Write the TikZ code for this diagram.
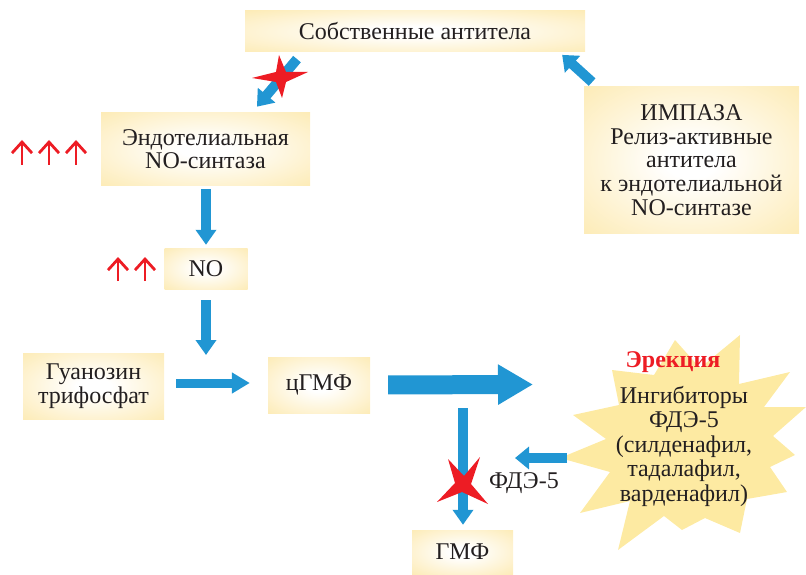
\documentclass[tikz,border=0pt]{standalone}
\usepackage{fontspec}
\setmainfont{Liberation Serif}
\usetikzlibrary{arrows.meta,calc}
\definecolor{byellow}{RGB}{252,226,148}
\definecolor{syellow}{RGB}{253,234,162}
\definecolor{bblue}{RGB}{33,150,211}
\definecolor{rred}{RGB}{237,28,36}
\definecolor{tcol}{RGB}{35,31,32}
\pgfdeclareradialshading{boxshade}{\pgfpoint{0bp}{0bp}}{color(0bp)=(white); color(6bp)=(white); color(50bp)=(byellow); color(100bp)=(byellow)}
\begin{document}
\begin{tikzpicture}[x=1pt,y=-1pt,
  box/.style={shading=boxshade, inner sep=0pt, align=center, text=tcol,
    font=\fontsize{24}{23.6}\selectfont},
  lbl/.style={inner sep=0pt, align=center, text=tcol, font=\fontsize{24}{24.5}\selectfont},
  barrow/.style={draw=bblue, line width=10pt},
  rarrow/.style={draw=rred, line width=2.8pt, -{Straight Barb[length=11pt,width=20pt]}},
  rstar/.style={fill=rred}]
\useasboundingbox (0,0) rectangle (806,575);
% starburst
\fill[syellow] (740,335) -- (739,384) -- (790,372) -- (764,407) -- (806,407) -- (773,436)
  -- (795,455) -- (770,467) -- (787,492) -- (747,499) -- (740,533) -- (705,518)
  -- (682,530) -- (664,516) -- (618,550) -- (630,501) -- (580,513) -- (610,472)
  -- (560,458) -- (606,439) -- (573,415) -- (619,405) -- (612,370) -- (654,375)
  -- (675,340) -- (700,368) -- cycle;
% boxes
\node[box, minimum width=340pt, minimum height=41pt] (sob) at (415,31.5) {Собственные антитела};
\node[box, minimum width=209pt, minimum height=72pt] (endo) at (205.5,149) {Эндотелиальная\\NO-синтаза};
\node[box, minimum width=83pt, minimum height=41pt] (no) at (206,268.5) {NO};
\node[box, minimum width=141pt, minimum height=66pt] (gtp) at (93.5,386) {Гуанозин\\трифосфат};
\node[box, minimum width=102pt, minimum height=56pt] (cgmp) at (319,385) {цГМФ};
\node[box, minimum width=101pt, minimum height=44pt] (gmf) at (462.5,552) {ГМФ};
\node[box, minimum width=215pt, minimum height=146pt] (imp) at (691.5,160) {ИМПАЗА\\Релиз-активные\\антитела\\к эндотелиальной\\NO-синтазе};
% labels
\node[lbl, text=rred, font=\bfseries\fontsize{24}{24.5}\selectfont] (erec) at (673,362) {Эрекция};
\node[lbl] (inh) at (684,446) {Ингибиторы\\ФДЭ-5\\(силденафил,\\тадалафил,\\варденафил)};
\node[lbl] (fde) at (524,483) {ФДЭ-5};
% coordinates
\coordinate (rx) at (206,355);
\coordinate (bigtip) at (533,384.5);
\coordinate (branch) at (463,408);
\coordinate (burstL) at (567,458);
\coordinate (fdeTip) at (515,458);
% blue arrows
\draw[barrow, -{Triangle[length=15pt,width=22pt]}, shorten <=9pt, shorten >=8pt]
  ([xshift=58pt]sob.south west) -- ([xshift=151pt]endo.north west);
\draw[barrow, -{Triangle[length=14pt,width=22pt]}, shorten <=7pt, shorten >=4pt]
  ([xshift=13.5pt]imp.north west) -- ([xshift=-26pt]sob.south east);
\draw[barrow, -{Triangle[length=15pt,width=20pt]}, shorten <=4pt, shorten >=3pt]
  (endo.south -| no.north) -- (no.north);
\draw[barrow, -{Triangle[length=15pt,width=20pt]}, shorten <=11pt] (no.south) -- (rx);
\draw[barrow, line width=9pt, -{Triangle[length=18pt,width=20pt]}, shorten <=12pt, shorten >=18pt]
  ([yshift=3pt]gtp.east) -- ([yshift=2pt]cgmp.west);
\draw[barrow, line width=19pt, -{Triangle[length=35pt,width=38pt]}, shorten <=18pt] (cgmp.east) -- (bigtip);
\draw[barrow, -{Triangle[length=15pt,width=20pt]}, shorten >=5pt] (branch) -- (branch |- gmf.north);
\draw[barrow, -{Triangle[length=14pt,width=22pt]}] (burstL) -- (fdeTip);
% red stars
\fill[rstar] (279,55) -- (286,72) -- (308,72) -- (286,82) -- (282,98) -- (276,82) -- (252,78) -- (276,72) -- cycle;
\fill[rstar] (448,459) -- (464,476) -- (480,457) -- (471,484) -- (488,504) -- (462,492) -- (437,502) -- (455,483) -- cycle;
% red up arrows
\foreach \x in {22,49,76} \draw[rarrow] (\x,165) -- (\x,140);
\foreach \x in {118,145} \draw[rarrow] (\x,281) -- (\x,257);
\end{tikzpicture}
\end{document}
